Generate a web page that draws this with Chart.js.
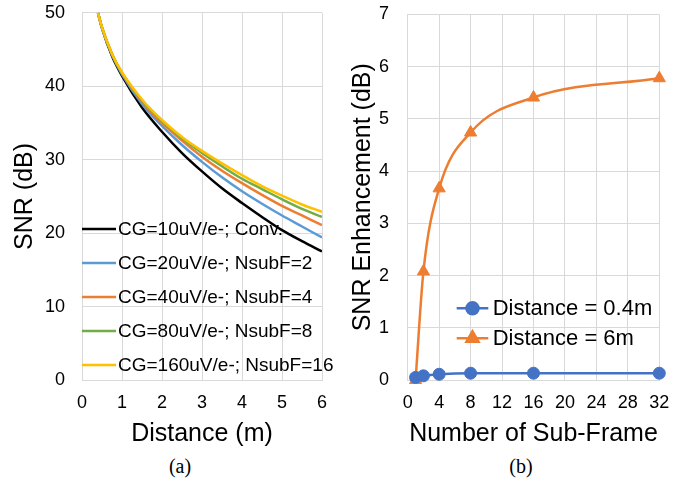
<!DOCTYPE html>
<html lang="en">
<head>
<meta charset="UTF-8">
<title>SNR vs Distance / Sub-Frame</title>
<script src="https://cdn.jsdelivr.net/npm/chart.js@4/dist/chart.umd.min.js"></script>
<style>
    body { margin: 0; background: #fff; }
    #wrap { position: relative; width: 697px; height: 481px; overflow: hidden; }
    /* canvases start above the page so the tick padding Chart.js adds on top is hidden */
    #leftBox { position: absolute; left: 0; top: -15px; width: 340px; height: 467px; }
    #rightBox { position: absolute; left: 340px; top: -15px; width: 357px; height: 467px; }
    .cap {
        position: absolute; top: 455px; width: 60px; text-align: center;
        font: 20px "Liberation Serif", "Times New Roman", serif; color: #000;
    }
</style>
</head>
<body>
<div id="wrap">
    <div id="leftBox"><canvas id="snrChart"></canvas></div>
    <div id="rightBox"><canvas id="enhChart"></canvas></div>
    <div class="cap" style="left:150px">(a)</div>
    <div class="cap" style="left:491px">(b)</div>
</div>

<script>
// (a) SNR against distance for each conversion gain setting
const distances = [0.4, 0.5, 0.75, 1, 1.5, 2, 2.5, 3, 3.5, 4, 4.5, 5, 5.5, 6];
const snrConv   = [50.0, 47.9, 44.1, 41.4, 37.1, 33.8, 30.9, 28.4, 26.1, 24.1, 22.2, 20.4, 18.9, 17.5];
const snrSub2   = [50.0, 47.9, 44.3, 41.6, 37.6, 34.6, 32.0, 29.7, 27.6, 25.7, 24.0, 22.4, 20.9, 19.4];
const snrSub4   = [50.0, 48.0, 44.4, 41.8, 37.9, 35.0, 32.6, 30.4, 28.5, 26.8, 25.2, 23.7, 22.4, 21.1];
const snrSub8   = [50.0, 48.0, 44.4, 41.8, 38.1, 35.3, 32.9, 30.9, 29.1, 27.4, 26.0, 24.6, 23.3, 22.2];
const snrSub16  = [50.0, 48.0, 44.4, 41.9, 38.2, 35.4, 33.1, 31.2, 29.5, 27.9, 26.4, 25.1, 23.9, 22.9];
const snrLabels = [
    'CG=10uV/e-; Conv.',
    'CG=20uV/e-; NsubF=2',
    'CG=40uV/e-; NsubF=4',
    'CG=80uV/e-; NsubF=8',
    'CG=160uV/e-; NsubF=16'
];
const snrColors = ['#000000', '#5B9BD5', '#ED7D31', '#70AD47', '#FFC000'];
const distanceTicks = [0, 6, 1];   // min, max, step
const snrTicks = [0, 50, 10];

// (b) SNR enhancement against number of sub-frames
const subFrames = [1, 2, 4, 8, 16, 32];
const enhNear   = [0.05, 0.08, 0.11, 0.13, 0.13, 0.13];
const enhFar    = [0.0, 2.08, 3.67, 4.74, 5.41, 5.78];
const enhLabels = ['Distance = 0.4m', 'Distance = 6m'];
const enhColors = ['#4472C4', '#ED7D31'];
const subFrameTicks = [0, 32, 4];
const enhTicks = [0, 7, 1];

const FONT = '"Liberation Sans", Arial, sans-serif';
const GRID = '#D9D9D9';

// Legend drawn inside the plot area, one row per dataset
const innerLegend = {
    id: 'innerLegend',
    afterDraw(chart, args, opts) {
        const ctx = chart.ctx;
        ctx.save();
        ctx.font = opts.fontSize + 'px ' + FONT;
        ctx.textBaseline = 'middle';
        ctx.textAlign = 'left';
        chart.data.datasets.forEach((ds, i) => {
            const y = opts.y + i * opts.dy;
            ctx.strokeStyle = ds.borderColor;
            ctx.lineWidth = ds.borderWidth;
            ctx.beginPath();
            ctx.moveTo(opts.x, y);
            ctx.lineTo(opts.x + opts.len, y);
            ctx.stroke();
            if (ds.pointStyle && ds.pointRadius) {
                ctx.fillStyle = ds.pointBackgroundColor;
                Chart.helpers.drawPoint(ctx, {
                    pointStyle: ds.pointStyle, radius: ds.pointRadius,
                    rotation: 0, borderWidth: 1
                }, opts.x + opts.len / 2, y);
                ctx.fill();
            }
            ctx.fillStyle = '#000';
            ctx.fillText(ds.label, opts.textX, y + 1);
        });
        ctx.restore();
    }
};

function linearAxis(range, title, titlePad, tickPad, fixedSize, horizontal) {
    return {
        type: 'linear',
        min: range[0],
        max: range[1],
        grid: { color: GRID, lineWidth: 1, drawTicks: false },
        border: { color: GRID, width: 1 },
        ticks: {
            stepSize: range[2],
            padding: tickPad,
            color: '#000',
            font: { family: FONT, size: 18 },
            maxRotation: 0
        },
        title: {
            display: true,
            text: title,
            color: '#000',
            font: { family: FONT, size: 25 },
            padding: titlePad
        },
        afterFit(scale) {
            if (horizontal) scale.height = fixedSize; else scale.width = fixedSize;
        }
    };
}

const snrSeries = [snrConv, snrSub2, snrSub4, snrSub8, snrSub16];

new Chart(document.getElementById('snrChart'), {
    type: 'line',
    data: {
        datasets: snrSeries.map((vals, i) => ({
            label: snrLabels[i],
            data: distances.map((d, k) => ({ x: d, y: vals[k] })),
            borderColor: snrColors[i],
            backgroundColor: snrColors[i],
            borderWidth: 2.5,
            pointRadius: 0,
            cubicInterpolationMode: 'monotone',
            order: snrSeries.length - 1 - i
        }))
    },
    options: {
        responsive: true,
        maintainAspectRatio: false,
        animation: false,
        layout: { padding: { top: 0, right: 18, left: 0, bottom: 0 } },
        scales: {
            x: linearAxis(distanceTicks, 'Distance (m)', { top: 0, bottom: 3 }, 12, 72, true),
            y: linearAxis(snrTicks, 'SNR (dB)', { top: 10, bottom: 0 }, 17, 82, false)
        },
        plugins: {
            legend: { display: false },
            tooltip: { enabled: false },
            innerLegend: { x: 82, y: 244, dy: 34, len: 34, textX: 118, fontSize: 19 }
        }
    },
    plugins: [innerLegend]
});

const enhSeries = [enhNear, enhFar];
const enhStyles = ['circle', 'triangle'];

new Chart(document.getElementById('enhChart'), {
    type: 'line',
    data: {
        datasets: enhSeries.map((vals, i) => ({
            label: enhLabels[i],
            data: subFrames.map((n, k) => ({ x: n, y: vals[k] })),
            borderColor: enhColors[i],
            backgroundColor: enhColors[i],
            pointBackgroundColor: enhColors[i],
            pointBorderColor: enhColors[i],
            borderWidth: 2.5,
            pointStyle: enhStyles[i],
            pointRadius: i === 0 ? 6 : 7,
            pointBorderWidth: 1,
            cubicInterpolationMode: 'monotone',
            clip: false
        }))
    },
    options: {
        responsive: true,
        maintainAspectRatio: false,
        animation: false,
        layout: { padding: { top: 0, right: 37.7, left: 0, bottom: 0 } },
        scales: {
            x: linearAxis(subFrameTicks, 'Number of Sub-Frame', { top: 0, bottom: 3 }, 12, 72, true),
            y: linearAxis(enhTicks, 'SNR Enhancement (dB)', { top: 8, bottom: 0 }, 18.7, 67.7, false)
        },
        plugins: {
            legend: { display: false },
            tooltip: { enabled: false },
            innerLegend: { x: 116.7, y: 323.3, dy: 30, len: 31.6, textX: 152.7, fontSize: 22 }
        }
    },
    plugins: [innerLegend]
});
</script>
</body>
</html>
